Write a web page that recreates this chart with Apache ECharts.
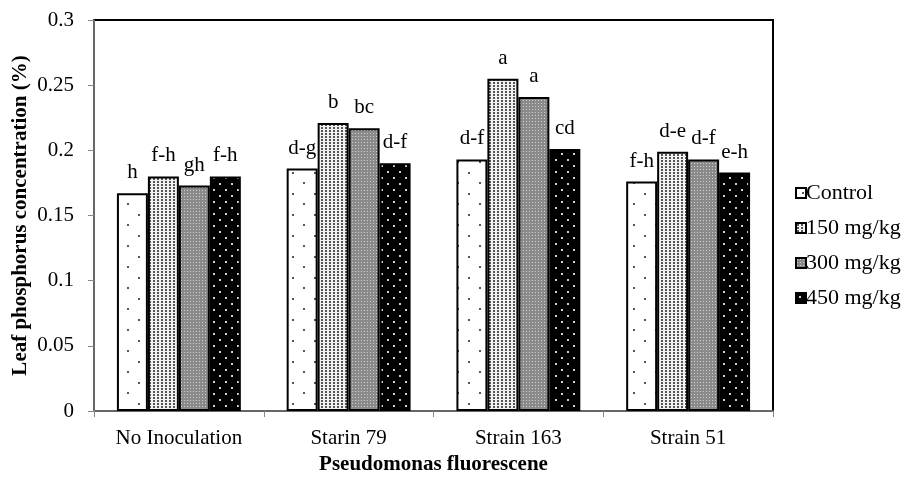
<!DOCTYPE html>
<html>
<head>
<meta charset="utf-8">
<script src="https://cdn.jsdelivr.net/npm/echarts@6/dist/echarts.min.js"></script>
<style>
html,body{margin:0;padding:0;background:#fff;}
#chart{width:904px;height:477px;}
</style>
</head>
<body>
<div id="chart"></div>
<script>
var categories = ['No Inoculation', 'Starin 79', 'Strain 163', 'Strain 51'];
var seriesNames = ['Control', '150 mg/kg', '300 mg/kg', '450 mg/kg'];
var controlVals = [0.167, 0.186, 0.193, 0.176];
var mg150Vals = [0.180, 0.221, 0.255, 0.199];
var mg300Vals = [0.173, 0.217, 0.241, 0.193];
var mg450Vals = [0.180, 0.190, 0.201, 0.183];
var controlLetters = ['h', 'd-g', 'd-f', 'f-h'];
var mg150Letters = ['f-h', 'b', 'a', 'd-e'];
var mg300Letters = ['gh', 'bc', 'a', 'd-f'];
var mg450Letters = ['f-h', 'd-f', 'cd', 'e-h'];
var yTicks = [0, 0.05, 0.1, 0.15, 0.2, 0.25, 0.3];

function makeTile(w, h, bg, dots, dotColor, ds) {
  var c = document.createElement('canvas');
  c.width = w; c.height = h;
  var ctx = c.getContext('2d');
  ctx.fillStyle = bg; ctx.fillRect(0, 0, w, h);
  ctx.fillStyle = dotColor;
  dots.forEach(function (d) { ctx.fillRect(d[0], d[1], ds, ds); });
  return c;
}
var patterns = [
  makeTile(22, 21, '#ffffff', [[6, 4], [17, 14]], '#555555', 2),
  makeTile(4, 3, '#f2f2f2', [[1, 1]], '#555555', 2),
  makeTile(3, 3, '#8a8a8a', [[1, 1]], '#d0d0d0', 1),
  makeTile(12, 12, '#000000', [[3, 3], [9, 9]], '#cfcfcf', 2)
];

var valueSets = [controlVals, mg150Vals, mg300Vals, mg450Vals];
var letterSets = [controlLetters, mg150Letters, mg300Letters, mg450Letters];
var font = '"Liberation Serif", "Times New Roman", serif';

var series = seriesNames.map(function (name, i) {
  return {
    name: name,
    type: 'bar',
    barGap: '0%',
    barCategoryGap: '27%',
    data: valueSets[i],
    itemStyle: {
      color: { image: patterns[i], repeat: 'repeat' },
      borderColor: '#000',
      borderWidth: 2
    },
    label: {
      show: true,
      position: 'top',
      distance: 10,
      fontFamily: font,
      fontSize: 21,
      color: '#000',
      formatter: function (p) { return letterSets[i][p.dataIndex]; }
    }
  };
});

var chart = echarts.init(document.getElementById('chart'));
chart.setOption({
  backgroundColor: '#fff',
  animation: false,
  grid: { left: 94, right: 131, top: 20, bottom: 66, outerBoundsMode: 'none', containLabel: false, show: true, borderColor: '#000', borderWidth: 2, backgroundColor: 'transparent' },
  legend: {
    orient: 'vertical',
    left: 795,
    top: 182,
    padding: 0,
    itemGap: 13,
    itemWidth: 10,
    itemHeight: 10,
    icon: 'rect',
    itemStyle: { borderColor: '#000', borderWidth: 2 },
    textStyle: { fontFamily: font, fontSize: 22, color: '#000', padding: [0, 0, 0, -5] },
    data: seriesNames
  },
  xAxis: {
    type: 'category',
    data: categories,
    name: 'Pseudomonas fluorescene',
    nameLocation: 'middle',
    nameGap: 43,
    nameTextStyle: { fontFamily: font, fontSize: 21, fontWeight: 'bold', color: '#000' },
    axisLine: { lineStyle: { color: '#888', width: 1.5 } },
    axisTick: { show: true, length: 6, lineStyle: { color: '#888' } },
    axisLabel: { fontFamily: font, fontSize: 21, color: '#000', margin: 17 }
  },
  yAxis: {
    type: 'value',
    min: 0,
    max: 0.3,
    interval: 0.05,
    name: 'Leaf phosphorus concentration (%)',
    nameLocation: 'middle',
    nameGap: 63,
    nameMoveOverlap: false,
    nameTextStyle: { fontFamily: font, fontSize: 21, fontWeight: 'bold', color: '#000' },
    axisLine: { show: true, lineStyle: { color: '#888', width: 1.5 } },
    axisTick: { show: true, length: 6, lineStyle: { color: '#888' } },
    splitLine: { show: false },
    axisLabel: {
      fontFamily: font, fontSize: 21, color: '#000', margin: 20,
      formatter: function (v) {
        var t = yTicks.find(function (x) { return Math.abs(x - v) < 1e-9; });
        return String(t !== undefined ? t : v);
      }
    }
  },
  series: series
});
</script>
</body>
</html>
